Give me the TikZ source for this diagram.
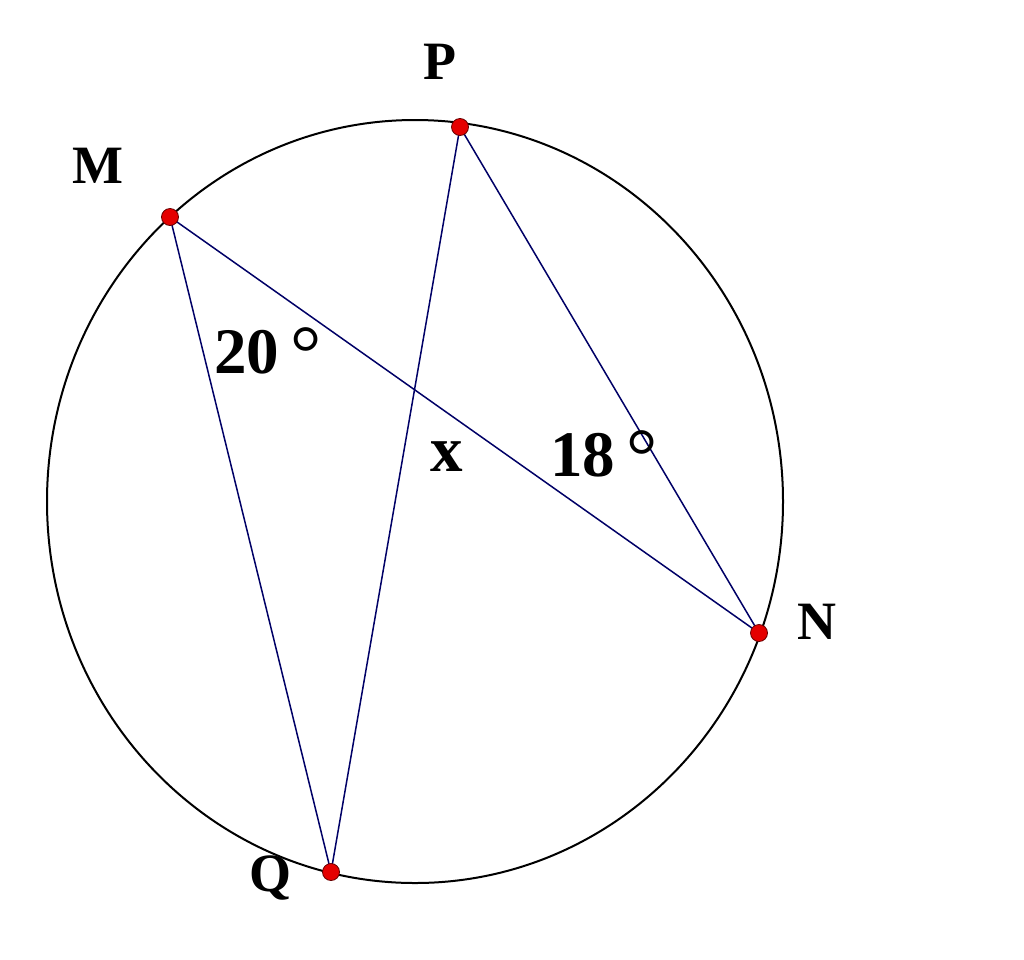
\documentclass[tikz,border=0pt]{standalone}
\usepackage{fontspec}
\setmainfont{Liberation Serif}
\newcommand{\degsym}{\raisebox{-6pt}{\fontsize{78}{80}\selectfont\mdseries °}}
\begin{document}
\begin{tikzpicture}[x=1pt,y=-1pt,
  chord/.style={draw=blue!40!black, line width=1.5pt},
  rim/.style={draw=black, line width=2pt},
  dot/.style={circle, fill=red!90!black, draw=red!40!black, line width=0.8pt, minimum size=17pt, inner sep=0pt},
  lbl/.style={font=\fontsize{54}{60}\selectfont\bfseries, inner sep=0pt},
  ang/.style={font=\fontsize{65}{68}\selectfont\bfseries, inner sep=0pt}]
\useasboundingbox (0,0) rectangle (1024,959);
\draw[rim] (415,501.5) ellipse [x radius=368, y radius=381.5];
\coordinate (M) at (170,217);
\coordinate (P) at (460,127);
\coordinate (N) at (759,633);
\coordinate (Q) at (331,872);
\draw[chord] (M) -- (N);
\draw[chord] (M) -- (Q);
\draw[chord] (P) -- (Q);
\draw[chord] (P) -- (N);
\node[dot] (dM) at (M) {};
\node[dot] (dP) at (P) {};
\node[dot] (dN) at (N) {};
\node[dot] (dQ) at (Q) {};
\node[lbl] (lP) at (440,62) {P};
\node[lbl] (lM) at (98,166) {M};
\node[lbl] (lN) at (817,622) {N};
\node[lbl] (lQ) at (270,878) {Q};
\node[ang, anchor=base west] (a20) at (214,373) {20\,\degsym};
\node[ang, anchor=base west] (a18) at (550,476) {18\,\degsym};
\node[ang] (ax) at (447,457) {x};
\end{tikzpicture}
\end{document}
